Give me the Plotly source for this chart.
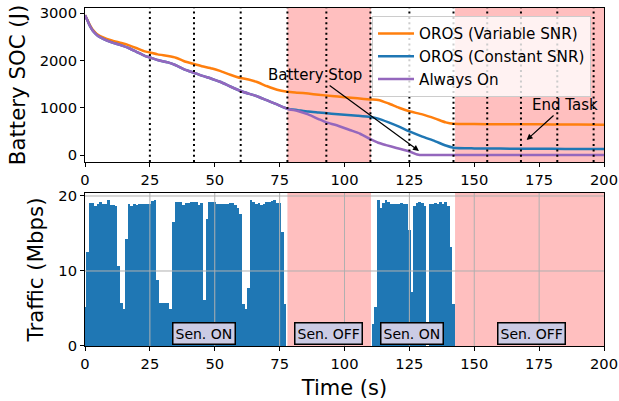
import plotly.graph_objects as go

# ---------------- data ----------------
# Battery state of charge (J)
t_var = [0, 1, 2, 3, 4, 5, 7, 10, 14, 17, 20, 23, 25, 28, 32, 35, 38, 42, 45, 49, 52, 56, 60, 63, 66,
         70, 74, 78, 82, 86, 90, 95, 100, 105, 110, 113, 117, 121, 125, 130, 135, 139, 142, 150, 160,
         170, 180, 190, 200]
soc_var = [2960, 2850, 2740, 2650, 2590, 2545, 2490, 2430, 2370, 2320, 2260, 2195, 2170, 2130, 2095,
           2060, 1990, 1925, 1880, 1830, 1780, 1700, 1630, 1600, 1550, 1460, 1380, 1340, 1320, 1300,
           1275, 1250, 1225, 1200, 1175, 1165, 1090, 1000, 925, 860, 770, 690, 660, 655, 652, 650,
           648, 645, 643]

t_const = [0, 1, 2, 3, 4, 5, 7, 10, 14, 17, 20, 23, 25, 28, 32, 35, 38, 42, 45, 49, 52, 56, 60, 63, 66,
           70, 74, 78, 82, 86, 90, 95, 100, 105, 110, 113, 117, 121, 125, 130, 135, 139, 142, 150, 160,
           170, 180, 190, 200]
soc_const = [2960, 2840, 2720, 2630, 2570, 2520, 2460, 2390, 2320, 2260, 2180, 2100, 2065, 2010, 1960,
             1900, 1820, 1740, 1680, 1610, 1550, 1450, 1355, 1300, 1250, 1160, 1070, 980, 950, 920,
             900, 875, 850, 830, 805, 770, 690, 600, 500, 390, 290, 200, 155, 140, 135, 132, 130, 128,
             126]

t_on = [0, 1, 2, 3, 4, 5, 7, 10, 14, 17, 20, 23, 25, 28, 32, 35, 38, 42, 45, 49, 52, 56, 60, 63, 66,
        70, 74, 78, 82, 86, 90, 93, 97, 102, 106, 110, 113, 116, 120, 125, 128, 129, 140, 160, 180, 200]
soc_on = [2960, 2840, 2720, 2630, 2570, 2520, 2460, 2390, 2320, 2260, 2180, 2100, 2065, 2010, 1960,
          1900, 1820, 1740, 1680, 1610, 1550, 1450, 1355, 1300, 1250, 1160, 1070, 980, 930, 860, 760,
          690, 630, 530, 450, 335, 260, 210, 150, 75, 10, 0, 0, 0, 0, 0]

# Traffic (Mbps), one value per second from t = 0 to 142 (0 while sensing is off)
traffic_t = list(range(0, 143))
traffic = [
    5.2, 12.6, 19.1, 19.1, 18.7, 18.9, 19.2, 19.0, 18.9, 19.5,      # 0-9
    18.8, 18.8, 18.7, 10.7, 5.7, 5.0, 14.3, 19.0, 18.7, 19.0,       # 10-19
    18.8, 19.0, 18.9, 19.0, 19.0, 19.0, 19.4, 19.5, 8.8, 5.7,       # 20-29
    5.7, 5.7, 5.7, 5.0, 16.5, 19.2, 19.2, 19.2, 18.8, 19.1,         # 30-39
    19.1, 19.2, 19.2, 19.2, 18.8, 19.1, 6.2, 16.9, 19.2, 19.2,      # 40-49
    19.2, 18.9, 18.9, 18.9, 18.9, 18.9, 19.1, 19.1, 18.8, 18.4,     # 50-59
    17.6, 5.6, 5.0, 7.7, 19.5, 19.2, 18.9, 19.1, 18.8, 18.9,        # 60-69
    19.2, 19.2, 19.3, 19.5, 19.1, 19.1, 15.2, 5.6, 0, 0,            # 70-79
    0, 0, 0, 0, 0, 0, 0, 0, 0, 0,                                   # 80-89
    0, 0, 0, 0, 0, 0, 0, 0, 0, 0,                                   # 90-99
    0, 0, 0, 0, 0, 0, 0, 0, 0, 0,                                   # 100-109
    0, 3.0, 5.2, 19.5, 18.4, 19.1, 19.5, 19.2, 19.0, 18.9,          # 110-119
    19.0, 18.9, 19.1, 18.9, 19.0, 15.5, 7.2, 18.7, 19.1, 19.2,      # 120-129
    19.1, 18.7, 0, 19.0, 18.9, 19.1, 18.9, 19.2, 18.9, 19.2,        # 130-139
    18.7, 13.2, 5.6,                                                # 140-142
]

event_times = [25, 42, 60, 78, 93, 110, 125, 142, 155, 168, 182, 196]
off_start = [78, 142.6]
off_end = [110.2, 200]

sen_labels = ["Sen. ON", "Sen. OFF", "Sen. ON", "Sen. OFF"]
sen_x = [46, 94, 126, 172]

x_ticks = [0, 25, 50, 75, 100, 125, 150, 175, 200]
soc_ticks = [0, 1000, 2000, 3000]
traffic_ticks = [0, 10, 20]

# ---------------- figure ----------------
FONT = "DejaVu Sans"
fig = go.Figure()

fig.add_trace(go.Scatter(x=t_var, y=soc_var, mode="lines", name="OROS (Variable SNR)",
                         line=dict(color="#ff7f0e", width=2.5, shape="spline", smoothing=0.6),
                         xaxis="x", yaxis="y"))
fig.add_trace(go.Scatter(x=t_const, y=soc_const, mode="lines", name="OROS (Constant SNR)",
                         line=dict(color="#1f77b4", width=2.5, shape="spline", smoothing=0.6),
                         xaxis="x", yaxis="y"))
fig.add_trace(go.Scatter(x=t_on, y=soc_on, mode="lines", name="Always On",
                         line=dict(color="#9467bd", width=2.5, shape="spline", smoothing=0.6),
                         xaxis="x", yaxis="y"))

fig.add_trace(go.Bar(x=traffic_t, y=traffic, width=1, marker=dict(color="#1f77b4", line=dict(width=0)),
                     showlegend=False, xaxis="x2", yaxis="y2"))

shapes = []
for xs, xe in zip(off_start, off_end):
    for xr, yr in (("x", "y domain"), ("x2", "y2 domain")):
        shapes.append(dict(type="rect", xref=xr, yref=yr, x0=xs, x1=xe, y0=0, y1=1,
                           fillcolor="rgba(255,0,0,0.25)", line=dict(width=0), layer="below"))
for et in event_times:
    shapes.append(dict(type="line", xref="x", yref="y domain", x0=et, x1=et, y0=0, y1=1,
                       line=dict(color="black", width=2, dash="2px,3.3px"), layer="above"))
# grid of the traffic panel (drawn above the bars)
for gx in x_ticks[1:-1]:
    shapes.append(dict(type="line", xref="x2", yref="y2 domain", x0=gx, x1=gx, y0=0, y1=1,
                       line=dict(color="#b0b0b0", width=1), layer="above"))
for gy in traffic_ticks[1:]:
    shapes.append(dict(type="line", xref="x2 domain", yref="y2", x0=0, x1=1, y0=gy, y1=gy,
                       line=dict(color="#b0b0b0", width=1), layer="above"))

annotations = [
    dict(text="Battery Stop", x=128.7, y=85, xref="x", yref="y", ax=88.75, ay=1694,
         axref="x", ayref="y", showarrow=True, arrowhead=2, arrowsize=1, arrowwidth=1.2,
         arrowcolor="black", font=dict(family=FONT, size=15, color="black")),
    dict(text="End Task", x=170.2, y=318, xref="x", yref="y", ax=185, ay=1059,
         axref="x", ayref="y", showarrow=True, arrowhead=2, arrowsize=1, arrowwidth=1.2,
         arrowcolor="black", font=dict(family=FONT, size=15, color="black")),
]
for lab, sx in zip(sen_labels, sen_x):
    annotations.append(dict(text=lab, x=sx, y=1.73, xref="x2", yref="y2", showarrow=False,
                            bgcolor="#cbcbe4", bordercolor="black", borderwidth=1.5, borderpad=2,
                            font=dict(family=FONT, size=14, color="black")))

axis_common = dict(showgrid=False, zeroline=False, showline=True, linecolor="black", linewidth=1,
                   mirror=True, ticks="outside", ticklen=4, tickwidth=1, tickcolor="black",
                   automargin=False,
                   tickfont=dict(family=FONT, size=14.7, color="black"))

fig.update_layout(
    width=619, height=401,
    margin=dict(l=85, r=15, t=8, b=55, autoexpand=False),
    paper_bgcolor="white", plot_bgcolor="white",
    font=dict(family=FONT, color="black"),
    bargap=0,
    shapes=shapes,
    annotations=annotations,
    xaxis=dict(domain=[0, 1], anchor="y", range=[0, 200], tickvals=x_ticks, **axis_common),
    yaxis=dict(domain=[0.5444, 1], anchor="x", range=[-148, 3112], tickvals=soc_ticks,
               title=dict(text="Battery SOC (J)", font=dict(family=FONT, size=21.3), standoff=8),
               **axis_common),
    xaxis2=dict(domain=[0, 1], anchor="y2", range=[0, 200], tickvals=x_ticks,
                title=dict(text="Time (s)", font=dict(family=FONT, size=21), standoff=9),
                **axis_common),
    yaxis2=dict(domain=[0, 0.4527], anchor="x2", range=[0, 20.4], tickvals=traffic_ticks,
                title=dict(text="Traffic (Mbps)", font=dict(family=FONT, size=21.3), standoff=8),
                **axis_common),
    legend=dict(x=0.553, y=0.976, xanchor="left", yanchor="top", itemwidth=36,
                bgcolor="rgba(255,255,255,0.8)", bordercolor="#cccccc", borderwidth=1,
                font=dict(family=FONT, size=15.2, color="black")),
)

fig.write_html("out.html")
